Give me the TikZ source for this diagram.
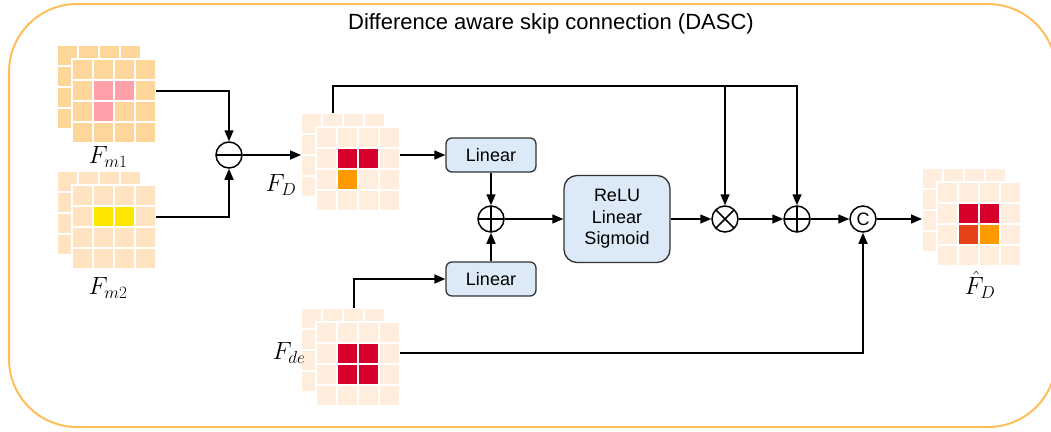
\documentclass[tikz,border=0pt]{standalone}
\usepackage{fontspec}
\setsansfont{Liberation Sans}
\usetikzlibrary{arrows.meta,calc}

\definecolor{framecol}{RGB}{255,190,90}
\definecolor{boxblue}{RGB}{220,234,247}
\definecolor{cellA}{RGB}{255,214,153}
\definecolor{cellB}{RGB}{255,226,192}
\definecolor{cellC}{RGB}{255,238,221}
\definecolor{pinkc}{RGB}{255,160,170}
\definecolor{yellowc}{RGB}{255,230,0}
\definecolor{redc}{RGB}{215,0,45}
\definecolor{orangec}{RGB}{255,153,0}
\definecolor{redorange}{RGB}{230,65,25}

% feature map: name, x, y (top-left of front grid), base colour
\newcommand\featmap[4]{%
  \foreach \i in {0,...,3}{\foreach \j in {0,...,3}{
    \fill[#4] (#2-15+21*\i+1, #3-14+21*\j+1) rectangle ++(19,19);}}
  \fill[white] (#2-1,#3-1) rectangle ++(86,86);
  \foreach \i in {0,...,3}{\foreach \j in {0,...,3}{
    \fill[#4] (#2+21*\i+1, #3+21*\j+1) rectangle ++(19,19);}}
  \node[inner sep=0pt, minimum size=84pt, anchor=north west] (#1) at (#2,#3) {};
  \node[inner sep=0pt, minimum size=84pt, anchor=north west] (#1-back) at (#2-15,#3-14) {};
}
% highlighted cell: x, y, column, row, colour
\newcommand\hcell[5]{\fill[#5] (#1+21*#3+1, #2+21*#4+1) rectangle ++(19,19);}

\begin{document}
\begin{tikzpicture}[x=1pt,y=-1pt,
  arr/.style={line width=1.5pt, -{Triangle[length=11pt,width=9pt]}},
  box/.style={draw=black!80, line width=1.3pt, fill=boxblue, rounded corners=6pt,
    minimum width=90pt, minimum height=34pt, font=\sffamily\fontsize{18}{20}\selectfont},
  bigbox/.style={draw=black!80, line width=1.3pt, fill=boxblue, rounded corners=13pt,
    minimum width=106pt, minimum height=87pt, align=center,
    font=\sffamily\fontsize{18}{21.5}\selectfont},
  opbase/.style={circle, draw, line width=1.5pt, minimum size=26pt, inner sep=0pt},
  opplus/.style={opbase, path picture={\draw[line width=1.5pt]
    (path picture bounding box.north) -- (path picture bounding box.south)
    (path picture bounding box.west) -- (path picture bounding box.east);}},
  opminus/.style={opbase, path picture={\draw[line width=1.5pt]
    (path picture bounding box.west) -- (path picture bounding box.east);}},
  opmult/.style={opbase, path picture={\draw[line width=1.5pt]
    (path picture bounding box.north west) -- (path picture bounding box.south east)
    (path picture bounding box.north east) -- (path picture bounding box.south west);}},
  opcat/.style={opbase, font=\sffamily\fontsize{18}{18}\selectfont},
  lbl/.style={font=\fontsize{23}{23}\selectfont}
]
\useasboundingbox (0,0) rectangle (1051,431);
\clip (0,0) rectangle (1051,431);

% outer frame and title
\draw[framecol, line width=2pt, rounded corners=68pt] (9,4) rectangle (1056,427);
\node[font=\sffamily\fontsize{22}{22}\selectfont] (title) at (551,24) {Difference aware skip connection (DASC)};

% feature maps
\featmap{Fm1}{72}{59}{cellA}
\hcell{72}{59}{1}{1}{pinkc}\hcell{72}{59}{2}{1}{pinkc}\hcell{72}{59}{1}{2}{pinkc}
\featmap{Fm2}{72}{185}{cellB}
\hcell{72}{185}{1}{1}{yellowc}\hcell{72}{185}{2}{1}{yellowc}
\featmap{FD}{316}{127}{cellC}
\hcell{316}{127}{1}{1}{redc}\hcell{316}{127}{2}{1}{redc}\hcell{316}{127}{1}{2}{orangec}
\featmap{Fde}{316}{322}{cellC}
\hcell{316}{322}{1}{1}{redc}\hcell{316}{322}{2}{1}{redc}\hcell{316}{322}{1}{2}{redc}\hcell{316}{322}{2}{2}{redc}
\featmap{Fhat}{937}{182}{cellC}
\hcell{937}{182}{1}{1}{redc}\hcell{937}{182}{2}{1}{redc}\hcell{937}{182}{1}{2}{redorange}\hcell{937}{182}{2}{2}{orangec}

% labels
\node[lbl] (lFm1) at (108,157) {$F_{m1}$};
\node[lbl] (lFm2) at (108,288) {$F_{m2}$};
\node[lbl] (lFD) at (281,185) {$F_{D}$};
\node[lbl] (lFde) at (289,353) {$F_{de}$};
\node[lbl] (lFhat) at (980,285) {$\hat{F}_{D}$};

% operators and blocks
\node[opminus] (sub) at (229,155) {};
\node[box] (lin1) at (491,155) {Linear};
\node[box] (lin2) at (491,279) {Linear};
\node[opplus] (add1) at (491,219) {};
\node[bigbox] (mlp) at (617,219) {ReLU\\Linear\\Sigmoid};
\node[opmult] (mul) at (725,219) {};
\node[opplus] (add2) at (797,219) {};
\node[opcat] (cat) at (863,219) {C};

\coordinate (top) at (333,86);
\coordinate (dtop) at (354,279);

% connectors
\draw[arr] ([yshift=-32pt]Fm1.north east) -| (sub.north);
\draw[arr] ([yshift=-32pt]Fm2.north east) -| (sub.south);
\draw[arr] (sub.east) -- (sub.east -| FD-back.west);
\draw[arr] (FD.east |- lin1.west) -- (lin1.west);
\draw[arr] (FD-back.north -| top) -- (top) -| (add2.north);
\draw[arr] (top -| mul) -- (mul.north);
\draw[arr] (lin1.south) -- (add1.north);
\draw[arr] (lin2.north) -- (add1.south);
\draw[arr] (add1.east) -- (mlp.west);
\draw[arr] (mlp.east) -- (mul.west);
\draw[arr] (mul.east) -- (add2.west);
\draw[arr] (add2.east) -- (cat.west);
\draw[arr] (cat.east) -- (cat.east -| Fhat-back.west);
\draw[arr] (Fde-back.north -| dtop) -- (dtop) -- (lin2.west);
\draw[arr] ([yshift=-31pt]Fde.north east) -| (cat.south);
\end{tikzpicture}
\end{document}
